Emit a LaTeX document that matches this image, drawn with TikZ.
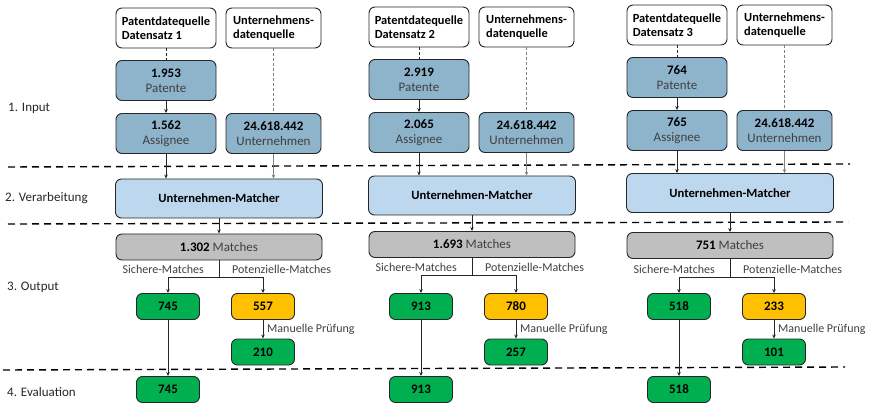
\documentclass[tikz,border=0pt]{standalone}
\usepackage{fontspec}
\setmainfont{Carlito}
\usetikzlibrary{arrows.meta}

\definecolor{inblue}{HTML}{8EB4CB}
\definecolor{procblue}{HTML}{BDD7EE}
\definecolor{resgray}{HTML}{BFBFBF}
\definecolor{okgreen}{HTML}{00B050}
\definecolor{potyellow}{HTML}{FFC000}
\definecolor{txtgray}{HTML}{404040}
\definecolor{edgecol}{HTML}{262626}

\newcommand\greytxt[1]{\textcolor{txtgray}{#1}}
\newcommand\bnum[1]{\textbf{#1}}

\begin{document}
\begin{tikzpicture}[x=1pt,y=-1pt,
  font=\fontsize{12}{14.5}\selectfont,
  box/.style={draw=edgecol, line width=0.9pt, rounded corners=6pt,
    inner sep=0pt, align=center, text=black},
  srcbox/.style={box, fill=white, minimum height=40pt,
    font=\fontsize{12.4}{14}\selectfont\bfseries, align=left},
  inbox/.style={box, fill=inblue, minimum height=40pt,
    font=\fontsize{13}{15}\selectfont},
  procbox/.style={box, fill=procblue, minimum width=207pt, minimum height=39pt,
    font=\fontsize{12.6}{14}\selectfont\bfseries},
  resbox/.style={box, fill=resgray, minimum width=206pt, minimum height=26pt,
    font=\fontsize{13}{15}\selectfont},
  smallbox/.style={box, minimum width=63pt, minimum height=26pt,
    font=\fontsize{13}{15}\selectfont\bfseries},
  lbl/.style={inner sep=0pt, text=txtgray},
  phase/.style={inner sep=0pt, anchor=west, text=edgecol,
    font=\fontsize{13}{15}\selectfont},
  link/.style={draw=edgecol, line width=0.7pt,
    -{Stealth[length=4pt,width=3.5pt]}},
  plainlink/.style={draw=edgecol, line width=0.7pt},
  dotlink/.style={draw=edgecol, line width=0.8pt, dash pattern=on 3pt off 2pt},
  sepline/.style={draw=black, line width=1.4pt, dash pattern=on 7pt off 5pt}
]
\useasboundingbox (0,0) rectangle (869,403);

% phase separators
\draw[sepline] (8,167) -- (850,164);
\draw[sepline] (8,224) -- (848,222);
\draw[sepline] (3,370) -- (845,367);

% phase labels
\node[phase] (ph1) at (8,108) {1. Input};
\node[phase] (ph2) at (5,198) {2. Verarbeitung};
\node[phase] (ph3) at (7,287) {3. Output};
\node[phase] (ph4) at (7,392) {4. Evaluation};

% one pipeline per data set
\foreach \c/\px/\ty/\my/\ry/\sy/\pa/\as/\ma/\si/\po/\mp in {
  1/166/28/198.5/247/277/1.953/1.562/1.302/745/557/210,
  2/419/27/195.5/244.5/275/2.919/2.065/1.693/913/780/257,
  3/677/25/193/245.5/277/764/765/751/518/233/101}{
  % input sources
  \node[srcbox, minimum width=100pt] (pq\c) at (\px,\ty)
    {Patentdatequelle\\Datensatz \c};
  \node[srcbox, minimum width=95pt] (uq\c) at (\px+107.5,\ty)
    {Unternehmens-\\datenquelle};
  \node[inbox, minimum width=100pt] (pat\c) at (\px,\ty+52.5)
    {\bnum{\pa}\\\greytxt{Patente}};
  \node[inbox, minimum width=100pt] (ass\c) at (\px,\ty+105.5)
    {\bnum{\as}\\\greytxt{Assignee}};
  \node[inbox, minimum width=95pt] (unt\c) at (\px+107.5,\ty+105.5)
    {\bnum{24.618.442}\\\greytxt{Unternehmen}};
  % processing
  \node[procbox] (mat\c) at (\px+53,\my) {Unternehmen-Matcher};
  % output
  \node[resbox] (res\c) at (\px+53,\ry) {\bnum{\ma} \greytxt{Matches}};
  \node[smallbox, fill=okgreen] (sure\c) at (\px+2,306.5) {\si};
  \node[smallbox, fill=potyellow] (pot\c) at (\px+97,306.5) {\po};
  \node[smallbox, fill=okgreen] (man\c) at (\px+97,352) {\mp};
  % evaluation
  \node[smallbox, fill=okgreen] (eval\c) at (\px+2,389.5) {\si};
  % branch labels
  \node[lbl, anchor=east] (sl\c) at (\px+38,\sy-7.5) {Sichere-Matches};
  \node[lbl, anchor=west] (pl\c) at (\px+66,\sy-7.5) {Potenzielle-Matches};
  \node[lbl, anchor=west] (ml\c) at (\px+101,329.5) {Manuelle Prüfung};
  % connectors
  \draw[dotlink] (pq\c) -- (pat\c);
  \draw[link] (pat\c) -- (ass\c);
  \draw[dotlink, draw=gray] (uq\c) -- (unt\c);
  \draw[link] (ass\c) -- (ass\c |- mat\c.north);
  \draw[link, draw=gray] (unt\c) -- (unt\c |- mat\c.north);
  \draw[link] (mat\c) -- (res\c);
  \coordinate (sp\c) at (\px+53,\sy);
  \draw[plainlink] (res\c.south) -- (sp\c);
  \draw[link] (sp\c) -| (sure\c.north);
  \draw[link] (sp\c) -| (pot\c.north);
  \draw[link] (pot\c) -- (man\c);
  \draw[link] (sure\c) -- (eval\c);
}
\end{tikzpicture}
\end{document}
